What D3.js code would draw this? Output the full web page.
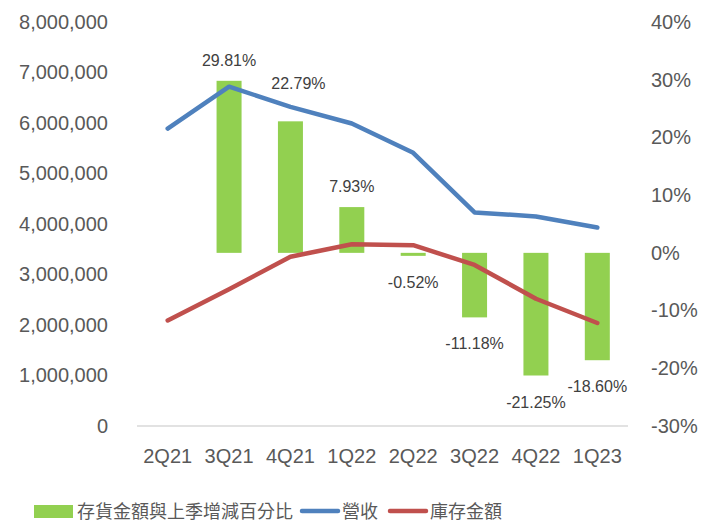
<!DOCTYPE html>
<html>
<head>
<meta charset="utf-8">
<script src="https://cdn.jsdelivr.net/npm/d3@7"></script>
<style>
  body { margin: 0; background: #fff; }
  svg { display: block; font-family: "Liberation Sans", "Noto Sans CJK TC", sans-serif; }
</style>
</head>
<body>
<svg width="702" height="522"></svg>
<script>
const width = 702, height = 522;
const svg = d3.select("svg");

// data
const quarters = ["2Q21", "3Q21", "4Q21", "1Q22", "2Q22", "3Q22", "4Q22", "1Q23"];
const invChange = [null, 0.2981, 0.2279, 0.0793, -0.0052, -0.1118, -0.2125, -0.1860];
const revenue = [5890000, 6720000, 6320000, 5990000, 5410000, 4230000, 4150000, 3930000];
const inventory = [2090000, 2710000, 3350000, 3600000, 3580000, 3190000, 2520000, 2040000];
const leftTicks = [0, 1e6, 2e6, 3e6, 4e6, 5e6, 6e6, 7e6, 8e6];
const rightTicks = [-0.3, -0.2, -0.1, 0, 0.1, 0.2, 0.3, 0.4];

// label nudges (Excel moved a couple by hand)
const labelDx = [0, 0, 8, 0, 0, 0, 0, 0];

const plotL = 137, plotR = 628, plotT = 22, plotB = 426;
const grey = "#595959";

// plain hyphen for negatives, like Excel
const fmt = d3.formatLocale({ decimal: ".", thousands: ",", grouping: [3], currency: ["", ""], minus: "-" });

const x = d3.scaleBand().domain(quarters).range([plotL, plotR]);
const yL = d3.scaleLinear().domain([0, 8e6]).range([plotB, plotT]);
const yR = d3.scaleLinear().domain([-0.3, 0.4]).range([plotB, plotT]);

// baseline
svg.append("line")
    .attr("x1", plotL).attr("x2", plotR)
    .attr("y1", plotB).attr("y2", plotB)
    .attr("stroke", "#d9d9d9").attr("stroke-width", 1.5);

// left axis
const axL = svg.append("g")
    .attr("transform", `translate(${plotL},0)`)
    .call(d3.axisLeft(yL).tickValues(leftTicks).tickSize(0).tickPadding(29)
        .tickFormat(d => d === 0 ? "0" : fmt.format(",")(d)));
axL.select(".domain").remove();
axL.selectAll("text").attr("font-size", 20).attr("fill", grey).attr("font-family", "Liberation Sans");

// right axis
const axR = svg.append("g")
    .attr("transform", `translate(${plotR},0)`)
    .call(d3.axisRight(yR).tickValues(rightTicks).tickSize(0).tickPadding(23)
        .tickFormat(fmt.format(".0%")));
axR.select(".domain").remove();
axR.selectAll("text").attr("font-size", 20).attr("fill", grey).attr("font-family", "Liberation Sans");

// x axis
const axX = svg.append("g")
    .attr("transform", `translate(0,${plotB})`)
    .call(d3.axisBottom(x).tickSize(0).tickPadding(23));
axX.select(".domain").remove();
axX.selectAll("text").attr("font-size", 20).attr("fill", grey).attr("font-family", "Liberation Sans");

// bars
const barW = 25;
const barData = quarters.map((q, i) => ({ q, v: invChange[i], i })).filter(d => d.v !== null);

svg.selectAll("rect.bar")
    .data(barData)
    .enter().append("rect")
    .attr("class", "bar")
    .attr("x", d => x(d.q) + x.bandwidth() / 2 - barW / 2)
    .attr("width", barW)
    .attr("y", d => Math.min(yR(0), yR(d.v)))
    .attr("height", d => Math.max(1.5, Math.abs(yR(d.v) - yR(0))))
    .attr("fill", "#92d050");

// lines
const line = d3.line()
    .x((d, i) => x(quarters[i]) + x.bandwidth() / 2)
    .y(d => yL(d));

svg.append("path")
    .datum(revenue)
    .attr("d", line)
    .attr("fill", "none")
    .attr("stroke", "#4f81bd")
    .attr("stroke-width", 4.5)
    .attr("stroke-linecap", "round")
    .attr("stroke-linejoin", "round");

svg.append("path")
    .datum(inventory)
    .attr("d", line)
    .attr("fill", "none")
    .attr("stroke", "#c0504d")
    .attr("stroke-width", 4.5)
    .attr("stroke-linecap", "round")
    .attr("stroke-linejoin", "round");

// data labels
svg.selectAll("text.lbl")
    .data(barData)
    .enter().append("text")
    .attr("class", "lbl")
    .attr("x", d => x(d.q) + x.bandwidth() / 2 + labelDx[d.i])
    .attr("y", d => {
        if (d.i === 2) return 89;           // 22.79% sits higher
        if (d.v >= 0) return yR(d.v) - 15;
        return yR(d.v) + 32;
    })
    .attr("text-anchor", "middle")
    .attr("font-size", 16)
    .attr("fill", "#404040")
    .text(d => fmt.format(".2%")(d.v));

// legend
const lg = svg.append("g").attr("font-size", 18).attr("fill", grey)
    .attr("font-family", "'Noto Sans CJK TC', sans-serif");
lg.append("rect").attr("x", 34).attr("y", 505).attr("width", 39).attr("height", 13).attr("fill", "#92d050");
lg.append("text").attr("x", 77).attr("y", 518).text("存貨金額與上季增減百分比");
lg.append("line").attr("x1", 302).attr("x2", 338).attr("y1", 511).attr("y2", 511)
    .attr("stroke", "#4f81bd").attr("stroke-width", 4.5).attr("stroke-linecap", "round");
lg.append("text").attr("x", 342).attr("y", 518).text("營收");
lg.append("line").attr("x1", 390).attr("x2", 426).attr("y1", 511).attr("y2", 511)
    .attr("stroke", "#c0504d").attr("stroke-width", 4.5).attr("stroke-linecap", "round");
lg.append("text").attr("x", 430).attr("y", 518).text("庫存金額");
</script>
</body>
</html>
